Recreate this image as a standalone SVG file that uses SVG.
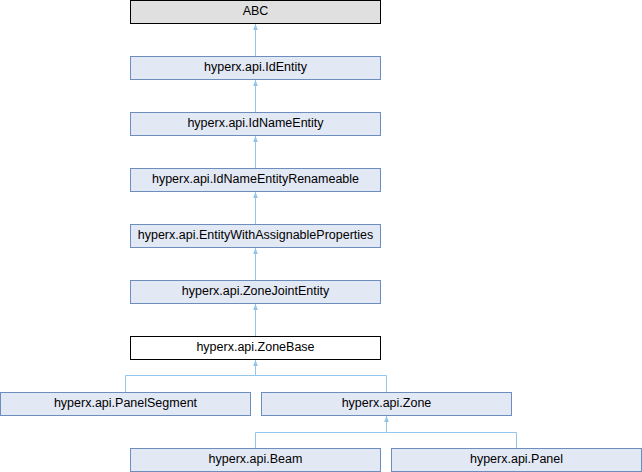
<svg xmlns="http://www.w3.org/2000/svg" width="642" height="472" viewBox="0 0 642 472">
<defs>
<style>
.n rect{fill:#e2e8f4;stroke:#6c8ebf;stroke-width:1}
.n text{font-family:"Liberation Sans",Arial,sans-serif;font-size:12.5px;text-anchor:middle;fill:#000}
#abc rect{fill:#e0e0e0;stroke:#000}
#zonebase rect{fill:#fff;stroke:#000}
.e{fill:none;stroke:#93c6ea;stroke-width:1}
</style>
<marker id="ah" viewBox="0 0 6 6" refX="6" refY="3" markerWidth="6" markerHeight="6" orient="auto" markerUnits="userSpaceOnUse">
<path d="M0,0.6 L6,3 L0,5.4 Z" fill="#93c6ea"/>
</marker>
</defs>
<rect width="642" height="472" fill="#fff"/>
<g id="edges">
<path class="e" d="M255.5,56.5 V24" marker-end="url(#ah)"/>
<path class="e" d="M255.5,112.5 V80" marker-end="url(#ah)"/>
<path class="e" d="M255.5,168.5 V136" marker-end="url(#ah)"/>
<path class="e" d="M255.5,224.5 V192" marker-end="url(#ah)"/>
<path class="e" d="M255.5,280.5 V248" marker-end="url(#ah)"/>
<path class="e" d="M255.5,336.5 V304" marker-end="url(#ah)"/>
<path class="e" d="M125.5,392.5 V375.5 H255.5 V360" marker-end="url(#ah)"/>
<path class="e" d="M386.5,392.5 V375.5 H255.5"/>
<path class="e" d="M255.5,448.5 V432.5 H386.5 V416" marker-end="url(#ah)"/>
<path class="e" d="M516.5,448.5 V432.5 H386.5"/>
</g>
<g id="abc" class="n"><rect x="130.5" y="0.5" width="250" height="23"/><text x="255.5" y="15">ABC</text></g>
<g id="identity" class="n"><rect x="130.5" y="56.5" width="250" height="23"/><text x="255.5" y="71">hyperx.api.IdEntity</text></g>
<g id="idnameentity" class="n"><rect x="130.5" y="112.5" width="250" height="23"/><text x="255.5" y="127">hyperx.api.IdNameEntity</text></g>
<g id="idnameentityrenameable" class="n"><rect x="130.5" y="168.5" width="250" height="23"/><text x="255.5" y="183">hyperx.api.IdNameEntityRenameable</text></g>
<g id="entitywithassignableproperties" class="n"><rect x="130.5" y="224.5" width="250" height="23"/><text x="255.5" y="239">hyperx.api.EntityWithAssignableProperties</text></g>
<g id="zonejointentity" class="n"><rect x="130.5" y="280.5" width="250" height="23"/><text x="255.5" y="295">hyperx.api.ZoneJointEntity</text></g>
<g id="zonebase" class="n"><rect x="130.5" y="336.5" width="250" height="23"/><text x="255.5" y="351">hyperx.api.ZoneBase</text></g>
<g id="panelsegment" class="n"><rect x="0.5" y="392.5" width="250" height="23"/><text x="125.5" y="407">hyperx.api.PanelSegment</text></g>
<g id="zone" class="n"><rect x="261.5" y="392.5" width="250" height="23"/><text x="386.5" y="407">hyperx.api.Zone</text></g>
<g id="beam" class="n"><rect x="130.5" y="448.5" width="250" height="23"/><text x="255.5" y="463">hyperx.api.Beam</text></g>
<g id="panel" class="n"><rect x="391.5" y="448.5" width="250" height="23"/><text x="516.5" y="463">hyperx.api.Panel</text></g>
</svg>
